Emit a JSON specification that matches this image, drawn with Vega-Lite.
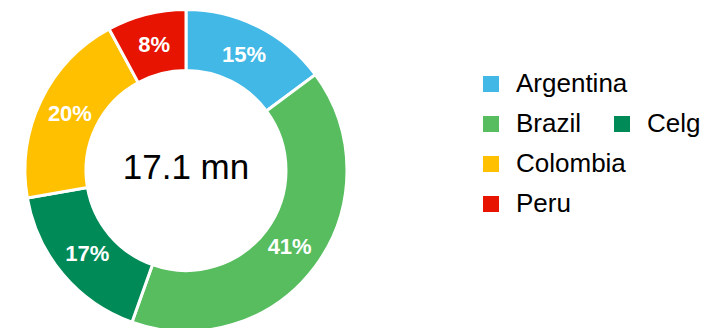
{
  "$schema": "https://vega.github.io/schema/vega-lite/v6.json",
  "width": 372,
  "height": 325,
  "padding": {"left": 0, "top": 3, "right": 0, "bottom": 0},
  "autosize": {"type": "pad"},
  "background": "white",
  "config": {"view": {"stroke": null}, "font": "Liberation Sans"},
  "layer": [
    {
      "data": {"values": [
        {"country": "Argentina", "rank": 1, "value": 0.15},
        {"country": "Brazil", "rank": 2, "value": 0.41},
        {"country": "Celg", "rank": 3, "value": 0.17},
        {"country": "Colombia", "rank": 4, "value": 0.20},
        {"country": "Peru", "rank": 5, "value": 0.08}
      ]},
      "encoding": {
        "theta": {"field": "value", "type": "quantitative", "stack": true},
        "order": {"field": "rank", "type": "quantitative", "sort": "ascending"}
      },
      "layer": [
        {
          "mark": {"type": "arc", "outerRadius": 161, "innerRadius": 100, "stroke": "white", "strokeWidth": 3},
          "encoding": {
            "color": {
              "field": "country", "type": "nominal",
              "scale": {
                "domain": ["Argentina", " ", "Brazil", "Celg", "Colombia", "  ", "Peru"],
                "range": ["#41B8E6", "rgba(0,0,0,0)", "#57BD5F", "#008A57", "#FFC000", "rgba(0,0,0,0)", "#E61400"]
              },
              "legend": {
                "orient": "none", "legendX": 478, "legendY": 63, "columns": 2, "direction": "horizontal", "gridAlign": "none",
                "symbolType": "square", "symbolSize": 256, "symbolStrokeWidth": 0,
                "labelFontSize": 26, "labelFont": "Liberation Sans", "labelColor": "black",
                "labelOffset": 12, "rowPadding": 14, "columnPadding": -19, "title": null, "padding": 0, "labelLimit": 300
              }
            }
          }
        },
        {
          "mark": {"type": "text", "radius": 129, "fontSize": 22, "fontWeight": "bold", "fill": "white"},
          "encoding": {
            "detail": {"field": "country"},
            "text": {"field": "value", "type": "quantitative", "format": ".0%"}
          }
        }
      ]
    },
    {
      "data": {"values": [{"total": "17.1 mn"}]},
      "mark": {"type": "text", "fontSize": 35, "fill": "black", "dy": -3},
      "encoding": {"text": {"field": "total"}}
    }
  ]
}
